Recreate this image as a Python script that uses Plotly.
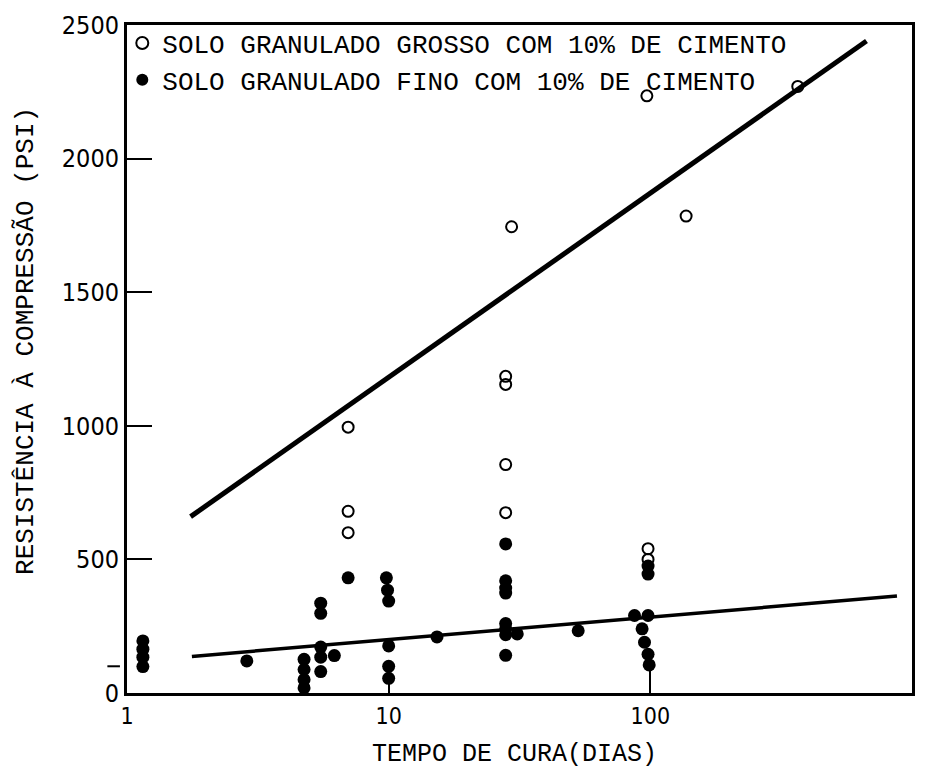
import plotly.graph_objects as go

# Coarse-grained soil with 10% cement (open circles)
coarse_days = [7, 7, 7, 28, 28, 28, 28, 29.5, 98, 98, 97, 137, 366]
coarse_psi = [995, 680, 600, 1185, 1155, 855, 675, 1745, 540, 500, 2235, 1785, 2270]

# Fine-grained soil with 10% cement (filled circles)
fine_days = [1.15, 1.15, 1.15, 1.15,
             2.87,
             4.75, 4.75, 4.75, 4.75,
             5.5, 5.5, 5.5, 5.5, 5.5,
             6.2, 7,
             9.8, 9.9, 10, 10, 10, 10,
             15.3,
             28, 28, 28, 28, 28, 28, 28, 28, 31,
             53,
             87, 98, 93, 95, 98, 99, 98, 98]
fine_psi = [195, 164, 134, 99,
            120,
            126, 88, 50, 19,
            336, 298, 172, 134, 80,
            140, 431,
            431, 385, 344, 176, 100, 55,
            210,
            558, 420, 393, 374, 260, 240, 218, 141, 221,
            233,
            290, 290, 240, 190, 145, 105, 475, 445]

# Fitted trend lines (endpoints)
coarse_fit_days = [1.75, 670]
coarse_fit_psi = [660, 2440]
fine_fit_days = [1.77, 876]
fine_fit_psi = [137, 363]

# Axis ticks
x_ticks = [1, 10, 100, 1000]
x_tick_text = ["1", "10", "100", "1000"]
y_ticks = [0, 500, 1000, 1500, 2000, 2500]
y_tick_text = ["0", "500", "1000", "1500", "2000", "2500"]

legend_coarse = "SOLO GRANULADO GROSSO COM 10% DE CIMENTO"
legend_fine = "SOLO GRANULADO FINO COM 10% DE CIMENTO"

MONO = "Liberation Mono, DejaVu Sans Mono, monospace"
NARROW = "DejaVu Sans Condensed, Liberation Sans Narrow, Liberation Sans, sans-serif"

fig = go.Figure()

fig.add_trace(go.Scatter(
    x=coarse_fit_days, y=coarse_fit_psi, mode="lines",
    line=dict(color="black", width=5), showlegend=False, hoverinfo="skip"))
fig.add_trace(go.Scatter(
    x=fine_fit_days, y=fine_fit_psi, mode="lines",
    line=dict(color="black", width=3.5), showlegend=False, hoverinfo="skip"))

fig.add_trace(go.Scatter(
    x=coarse_days, y=coarse_psi, mode="markers", name=legend_coarse,
    marker=dict(symbol="circle-open", size=11, color="black",
                line=dict(color="black", width=2))))
fig.add_trace(go.Scatter(
    x=fine_days, y=fine_psi, mode="markers", name=legend_fine,
    marker=dict(symbol="circle", size=13, color="black")))

fig.update_layout(
    width=938, height=774,
    margin=dict(l=127, r=26, t=25, b=81, autoexpand=False),
    paper_bgcolor="white", plot_bgcolor="white",
    showlegend=True,
    legend=dict(x=-0.006, y=1.008, xanchor="left", yanchor="top",
                bgcolor="rgba(0,0,0,0)", borderwidth=0,
                font=dict(family=MONO, size=26, color="black"),
                itemsizing="constant", itemwidth=30,
                tracegroupgap=0),
)

fig.update_xaxes(
    type="log", range=[0, 3], automargin=False,
    tickvals=x_ticks, ticktext=x_tick_text,
    ticks="inside", ticklen=25, tickwidth=2, tickcolor="black",
    showline=True, linewidth=3, linecolor="black", mirror=True,
    showgrid=False, zeroline=False,
    tickfont=dict(family=NARROW, size=23, color="black"),
)
fig.update_yaxes(
    range=[0, 2500], automargin=False,
    tickvals=y_ticks, ticktext=y_tick_text,
    ticks="inside", ticklen=25, tickwidth=2, tickcolor="black",
    showline=True, linewidth=3, linecolor="black", mirror=True,
    showgrid=False, zeroline=False,
    tickfont=dict(family=NARROW, size=25, color="black"),
)

# Short extra mark at 100 psi on the outside of the y axis
fig.add_shape(type="line", xref="paper", yref="y",
              x0=-0.025, x1=-0.009, y0=100, y1=100,
              line=dict(color="black", width=2))

fig.add_annotation(
    text="RESISTÊNCIA À COMPRESSÃO (PSI)", textangle=-90,
    xref="paper", yref="paper", x=-0.1287, y=0.527,
    xanchor="center", yanchor="middle",
    showarrow=False, font=dict(family=MONO, size=26, color="black"))
fig.add_annotation(
    text="TEMPO DE CURA(DIAS)",
    xref="paper", yref="paper", x=0.493, y=-0.0928,
    xanchor="center", yanchor="middle",
    showarrow=False, font=dict(family=MONO, size=25, color="black"))

fig.write_html("out.html")
